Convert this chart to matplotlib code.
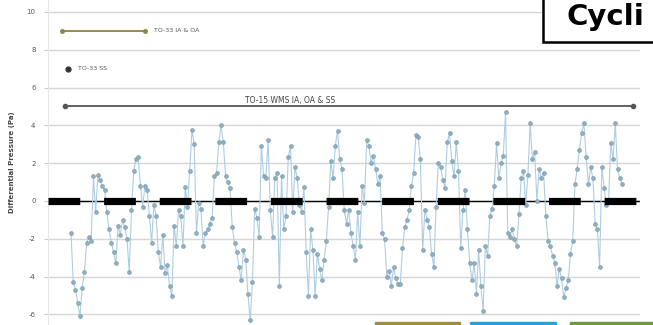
import numpy as np
import matplotlib.pyplot as plt
from matplotlib.patches import Rectangle

# differential pressure readings (Pa)
dp_1 = [-1.7, -4.3, -4.7, -5.4, -6.1, -4.6, -3.75, -2.2, -1.9, -2.1, 1.3, -0.6, 1.4, 1.1,
        0.8, 0.6, -0.6, -1.5, -2.2, -2.7, -3.3, -1.3, -1.8, -1.0, -1.4, -2.0, -3.75, -0.5,
        1.6, 2.2, 2.3, 0.8, -0.3, 0.8, 0.6, -0.8, -2.2, -0.2, -0.8, -2.7, -3.5, -1.8, -3.8,
        -3.4, -4.5, -5.0]
dp_2 = [-1.3, -2.4, -0.5, -0.8, -2.4, 0.75, -0.3, 1.6, 3.75, 3.0, -1.7, -0.1, -0.4, -2.4,
        -1.7, -1.5, -1.2, -0.9, 1.3, 1.5, 3.1, 4.0, 3.1, 1.3, 1.0, 0.7, -1.4, -2.2, -2.7,
        -3.5, -4.2, -2.6, -3.1, -4.9, -6.3, -4.3, -0.4, -0.9, -1.9, 2.9, 1.3, 1.2, 3.2, -0.5,
        -1.9, 1.2, 1.5, -4.5, 1.3, -1.5]
dp_3 = [-0.8, 2.3, 2.9, -0.6, 1.8, 1.2, -0.2, -0.6, 0.75, -2.7, -5.0, -1.5, -2.6, -5.0,
        -2.8, -3.6, -4.2, -3.1, -2.1, -0.3, 2.1, 1.2, 2.9, 3.7, 2.2, 1.7, -0.5, -1.2, -0.5,
        -1.7, -2.4, -3.1, -0.6, -2.4, 0.8, -0.1, 3.2, 2.9, 2.0, 2.4, 1.7, 0.9, 1.3, -1.7,
        -2.0, -4.0, -3.7, -4.5]
dp_4 = [-3.5, -4.1, -4.4, -4.4, -2.5, -1.4, -1.0, -0.5, 0.8, 1.5, 3.5, 3.4, 2.2, -2.6,
        -0.5, -1.0, -1.4, -2.8, -3.5, -0.3, 2.0, 1.8, 1.1, 0.7, 3.1, 3.6, 2.1, 1.3, 3.1, 1.6,
        -2.5, -0.5, 0.6, -1.5, -3.3, -4.2, -3.3, -4.9, -2.6, -4.5, -5.8, -2.4, -2.9, -0.8,
        -0.4, 0.8, 3.05, 1.2, 2.0, 2.4, 4.7, -1.7, -1.9]
dp_5 = [-1.5, -2.0, -2.4, -0.7, 1.2, 1.6, -0.2, 1.4, 4.1, 2.2, 2.6, 0.0, 1.7, 1.2, 1.5,
        -0.8, -2.1, -2.4, -2.9, -3.3, -4.5, -3.6, -4.1, -5.1, -4.6, -4.2, -2.8, -2.1, 0.9,
        1.7, 2.7, 3.6, 4.1, 2.3, 0.9, 1.8, 1.2, -1.2, -1.5, -3.5, 1.8, 0.7, -0.2, 0.0, 3.05,
        2.2, 4.1, 1.7, 1.2, 0.9]
dp = np.array(dp_1 + dp_2 + dp_3 + dp_4 + dp_5)

# reference levels from the other methods
to33_ia_oa = 9.0
to33_ss = 7.0
to15_wms = 5.0
label_ia_oa = "TO-33 IA & OA"
label_ss = "TO-33 SS"
label_wms = "TO-15 WMS IA, OA & SS"

yticks = [10, 8, 6, 4, 2, 0, -2, -4, -6]

n = len(dp)
idx = np.arange(n)
step = 551 / (n - 1)   # pixel width of one sample

fig = plt.figure(figsize=(6.53, 3.25), dpi=100)
ax = fig.add_axes([48 / 653, 0, (640 - 48) / 653, 1])
x_lo = -23 / step
x_hi = (n - 1) + 18 / step
ax.set_xlim(x_lo, x_hi)
ax.set_ylim(-6.56, 10.63)

for s in ax.spines.values():
    s.set_visible(False)
ax.spines['left'].set_visible(True)
ax.spines['left'].set_color('#e6e6e6')
ax.set_yticks(yticks)
ax.set_yticklabels([str(v) for v in yticks], fontsize=5, color='#555555')
ax.tick_params(axis='y', length=3, color='#cccccc', pad=6)
ax.set_xticks([])
ax.grid(axis='y', color='#d6d6d6', lw=1.0)
ax.set_axisbelow(True)

ax.set_ylabel("Differential Pressure (Pa)", fontsize=5, fontweight='bold',
              color='#444444', labelpad=8)

# zero line with heavy dashes over it
ax.axhline(0, color='black', lw=1.0, zorder=2)
ax.plot([x_lo, x_hi], [0, 0], color='black', lw=5.2,
        linestyle=(0, (4.4, 3.3)), solid_capstyle='butt', zorder=5)

# the time series
ax.plot(idx, dp, color='#aecde2', lw=0.8, zorder=3)
ax.plot(idx, dp, 'o', ms=2.8, mfc='#8eb0c0', mec='#7096a6', mew=0.4, zorder=4)

# reference level marks
ax.plot([-4, 33], [to33_ia_oa, to33_ia_oa], color='#8a8840', lw=1.3,
        marker='o', ms=2.5, zorder=3)
ax.text(37, to33_ia_oa, label_ia_oa, fontsize=4.5, color='#555555', va='center')
ax.plot([-1.3], [to33_ss], 'o', color='#333333', ms=3.5)
ax.text(3, to33_ss, label_ss, fontsize=4.5, color='#555555', va='center')
ax.plot([-2.7, 251], [to15_wms, to15_wms], color='#555555', lw=1.3,
        marker='o', ms=3, zorder=3)
ax.text(98, to15_wms + 0.05, label_wms, fontsize=5.5, color='#444444',
        ha='center', va='bottom')

# box with cut-off title in top right
fig.patches.append(Rectangle((543 / 653, 42 / 325 * -1 + 1), 0.3, 0.3,
                             transform=fig.transFigure, facecolor='white',
                             edgecolor='black', lw=1.8, zorder=10))
fig.text(567 / 653, 1 - 17 / 325, "Cycli", fontsize=21, fontweight='bold',
         va='center', ha='left', zorder=11)

# coloured strips peeking in at the bottom edge
for x0, x1, c in [(375, 460, '#a08c3c'), (470, 556, '#2aa0d8'), (570, 653, '#6a9a3a')]:
    fig.patches.append(Rectangle((x0 / 653, 0), (x1 - x0) / 653, 3 / 325,
                                 transform=fig.transFigure, color=c, zorder=10))

fig.savefig("out.png", dpi=100)
